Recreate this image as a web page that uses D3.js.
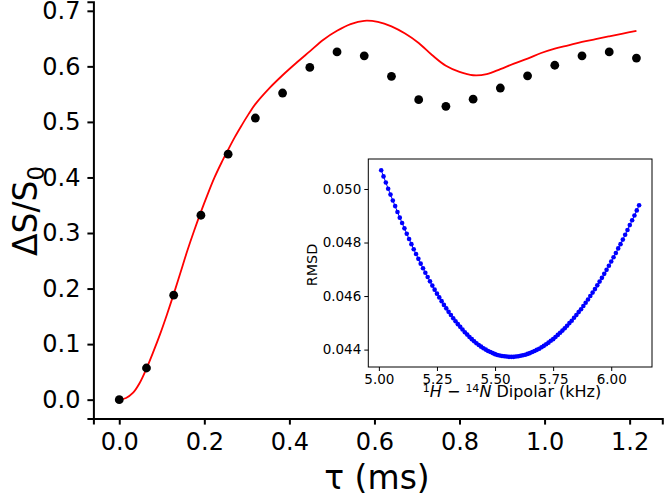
<!DOCTYPE html>
<html>
<head>
<meta charset="utf-8">
<script src="https://cdn.jsdelivr.net/npm/d3@7/dist/d3.min.js"></script>
<style>
  body { margin: 0; background: #fff; }
  svg { display: block; font-family: "DejaVu Sans", sans-serif; }
</style>
</head>
<body>
<script>
// measured points (tau in ms)
var tauMs = [0.000, 0.064, 0.128, 0.192, 0.256, 0.320, 0.384, 0.448, 0.512, 0.576,
             0.640, 0.704, 0.768, 0.832, 0.896, 0.960, 1.024, 1.088, 1.152, 1.216];
var deltaS = [0.000, 0.057, 0.188, 0.332, 0.442, 0.507, 0.552, 0.598, 0.626, 0.619,
              0.582, 0.540, 0.528, 0.541, 0.561, 0.583, 0.602, 0.619, 0.626, 0.615];

// simulated curve
var fitTau = [0.000, 0.016, 0.032, 0.048, 0.064, 0.080, 0.096, 0.112, 0.128, 0.144,
              0.160, 0.176, 0.192, 0.208, 0.224, 0.240, 0.256, 0.272, 0.288, 0.304,
              0.320, 0.352, 0.384, 0.416, 0.448, 0.480, 0.512, 0.544, 0.576, 0.608,
              0.640, 0.672, 0.704, 0.736, 0.768, 0.800, 0.832, 0.864, 0.896, 0.928,
              0.960, 0.992, 1.024, 1.056, 1.088, 1.120, 1.152, 1.184, 1.216];
var fitDeltaS = [0.000, 0.003, 0.012, 0.030, 0.056, 0.086, 0.118, 0.153, 0.190, 0.229,
                 0.268, 0.304, 0.338, 0.370, 0.400, 0.426, 0.450, 0.473, 0.494, 0.514,
                 0.532, 0.560, 0.584, 0.606, 0.627, 0.648, 0.664, 0.676, 0.682, 0.680,
                 0.672, 0.659, 0.642, 0.620, 0.601, 0.590, 0.584, 0.586, 0.595, 0.605,
                 0.614, 0.624, 0.632, 0.638, 0.644, 0.649, 0.654, 0.659, 0.664];

// inset: RMSD scan over the 1H-14N dipolar coupling, 5.01 .. 6.12 kHz in 0.01 steps
var rmsd = [0.05070, 0.05047, 0.05024, 0.05001, 0.04979, 0.04957, 0.04936, 0.04914, 0.04893, 0.04873,
            0.04853, 0.04833, 0.04813, 0.04794, 0.04775, 0.04757, 0.04739, 0.04721, 0.04704, 0.04687,
            0.04671, 0.04655, 0.04639, 0.04624, 0.04609, 0.04595, 0.04581, 0.04567, 0.04554, 0.04541,
            0.04529, 0.04517, 0.04506, 0.04495, 0.04485, 0.04475, 0.04465, 0.04456, 0.04447, 0.04439,
            0.04431, 0.04424, 0.04417, 0.04411, 0.04405, 0.04400, 0.04395, 0.04391, 0.04387, 0.04383,
            0.04380, 0.04378, 0.04376, 0.04375, 0.04374, 0.04373, 0.04373, 0.04373, 0.04374, 0.04375,
            0.04377, 0.04379, 0.04381, 0.04384, 0.04387, 0.04391, 0.04395, 0.04399, 0.04403, 0.04409,
            0.04414, 0.04420, 0.04426, 0.04433, 0.04439, 0.04447, 0.04455, 0.04463, 0.04471, 0.04480,
            0.04489, 0.04499, 0.04508, 0.04519, 0.04529, 0.04540, 0.04551, 0.04563, 0.04575, 0.04587,
            0.04600, 0.04613, 0.04626, 0.04640, 0.04654, 0.04668, 0.04683, 0.04698, 0.04713, 0.04729,
            0.04745, 0.04761, 0.04778, 0.04794, 0.04811, 0.04829, 0.04847, 0.04865, 0.04883, 0.04901,
            0.04920, 0.04939];
var dipolarKHz = rmsd.map(function (d, i) { return +(5.01 + 0.01 * i).toFixed(2); });

var mainXTicks = [0.0, 0.2, 0.4, 0.6, 0.8, 1.0, 1.2];
var mainYTicks = [0.0, 0.1, 0.2, 0.3, 0.4, 0.5, 0.6, 0.7];
var insetXTicks = [5.00, 5.25, 5.50, 5.75, 6.00];
var insetYTicks = [0.044, 0.046, 0.048, 0.050];

var width = 666, height = 495;

var svg = d3.select("body").append("svg")
    .attr("width", width)
    .attr("height", height);

// ---- main axes ----
var xScale = d3.scaleLinear().domain([-0.0608, 1.2768]).range([93.4, 662.3]);
var yScale = d3.scaleLinear().domain([-0.0341, 0.7164]).range([418.6, 1.7]);

var xAxis = d3.axisBottom(xScale)
    .tickValues(mainXTicks)
    .tickFormat(d3.format(".1f"))
    .tickSizeOuter(0)
    .tickSize(6)
    .tickPadding(8);

var yAxis = d3.axisLeft(yScale)
    .tickValues(mainYTicks)
    .tickFormat(d3.format(".1f"))
    .tickSizeOuter(0)
    .tickSize(6)
    .tickPadding(7);

var gx = svg.append("g")
    .attr("transform", "translate(0," + yScale.range()[0] + ")")
    .call(xAxis);
var gy = svg.append("g")
    .attr("transform", "translate(" + xScale.range()[0] + ",0)")
    .call(yAxis);

[gx, gy].forEach(function (g) {
    g.selectAll("path, line").attr("stroke", "#000").attr("stroke-width", 2);
    g.selectAll("text")
        .attr("fill", "#000")
        .style("font-size", "24px")
        .style("font-family", "DejaVu Sans");
});

svg.append("text")
    .attr("x", 377)
    .attr("y", 488.5)
    .attr("text-anchor", "middle")
    .style("font-size", "33px")
    .text("τ (ms)");

var ylab = svg.append("text")
    .attr("transform", "translate(36.5,211) rotate(-90)")
    .attr("text-anchor", "middle")
    .style("font-size", "33px");
ylab.append("tspan").text("ΔS/S");
ylab.append("tspan").attr("dy", 7).style("font-size", "23px").text("0");

var fitLine = d3.line()
    .x(function (d, i) { return xScale(fitTau[i]); })
    .y(function (d) { return yScale(d); })
    .curve(d3.curveCatmullRom);

svg.append("path")
    .datum(fitDeltaS)
    .attr("d", fitLine)
    .attr("fill", "none")
    .attr("stroke", "#ff0000")
    .attr("stroke-width", 1.8);

svg.append("g").selectAll("circle")
    .data(deltaS)
    .enter().append("circle")
    .attr("cx", function (d, i) { return xScale(tauMs[i]); })
    .attr("cy", function (d) { return yScale(d); })
    .attr("r", 4.4)
    .attr("fill", "#000");

// ---- inset ----
var ix = d3.scaleLinear().domain([4.9545, 6.1755]).range([368.3, 652]);
var iy = d3.scaleLinear().domain([0.04335, 0.05112]).range([367, 159]);

svg.append("rect")
    .attr("x", ix.range()[0])
    .attr("y", iy.range()[1])
    .attr("width", ix.range()[1] - ix.range()[0])
    .attr("height", iy.range()[0] - iy.range()[1])
    .attr("fill", "#fff");

var ixAxis = d3.axisBottom(ix)
    .tickValues(insetXTicks)
    .tickFormat(d3.format(".2f"))
    .tickSizeOuter(0)
    .tickSize(4)
    .tickPadding(3);
var iyAxis = d3.axisLeft(iy)
    .tickValues(insetYTicks)
    .tickFormat(d3.format(".3f"))
    .tickSizeOuter(0)
    .tickSize(4)
    .tickPadding(3);

var gix = svg.append("g")
    .attr("transform", "translate(0," + iy.range()[0] + ")")
    .call(ixAxis);
var giy = svg.append("g")
    .attr("transform", "translate(" + ix.range()[0] + ",0)")
    .call(iyAxis);

[gix, giy].forEach(function (g) {
    g.select(".domain").remove();
    g.selectAll("line").attr("stroke", "#000").attr("stroke-width", 1);
    g.selectAll("text")
        .attr("fill", "#000")
        .style("font-size", "13.5px")
        .style("font-family", "DejaVu Sans");
});

var rmsdLine = d3.line()
    .x(function (d, i) { return ix(dipolarKHz[i]); })
    .y(function (d) { return iy(d); });

svg.append("path")
    .datum(rmsd)
    .attr("d", rmsdLine)
    .attr("fill", "none")
    .attr("stroke", "#0000ff")
    .attr("stroke-width", 1);

svg.append("g").selectAll("circle")
    .data(rmsd)
    .enter().append("circle")
    .attr("cx", function (d, i) { return ix(dipolarKHz[i]); })
    .attr("cy", function (d) { return iy(d); })
    .attr("r", 2.3)
    .attr("fill", "#0000ff");

svg.append("rect")
    .attr("x", ix.range()[0])
    .attr("y", iy.range()[1])
    .attr("width", ix.range()[1] - ix.range()[0])
    .attr("height", iy.range()[0] - iy.range()[1])
    .attr("fill", "none")
    .attr("stroke", "#000")
    .attr("stroke-width", 1);

var ixlab = svg.append("text")
    .attr("x", 512)
    .attr("y", 396.5)
    .attr("text-anchor", "middle")
    .style("font-size", "16px");
ixlab.append("tspan").attr("dy", -4.5).style("font-size", "11px").text("1");
ixlab.append("tspan").attr("dy", 4.5).style("font-style", "italic").text("H");
ixlab.append("tspan").text(" \u2212 ");
ixlab.append("tspan").attr("dy", -4.5).style("font-size", "11px").text("14");
ixlab.append("tspan").attr("dy", 4.5).style("font-style", "italic").text("N");
ixlab.append("tspan").text(" Dipolar (kHz)");

svg.append("text")
    .attr("transform", "translate(316.5,265) rotate(-90)")
    .attr("text-anchor", "middle")
    .style("font-size", "14.3px")
    .text("RMSD");
</script>
</body>
</html>
